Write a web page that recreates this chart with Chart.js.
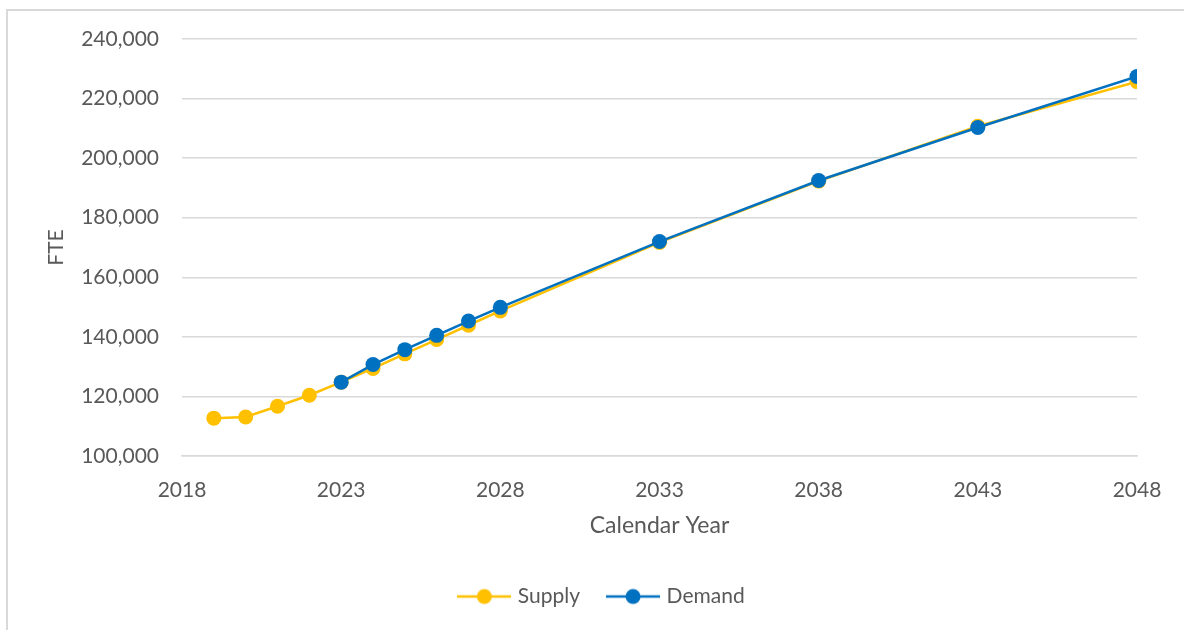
<!DOCTYPE html>
<html>
<head>
<meta charset="utf-8">
<script src="https://cdn.jsdelivr.net/npm/chart.js@4.4.1/dist/chart.umd.min.js"></script>
<style>
  html, body { margin: 0; padding: 0; background: #fff; overflow: hidden; }
  #wrap { position: relative; width: 1184px; height: 630px; }
  #frame { position: absolute; left: 6px; top: 9px; right: -20px; bottom: -20px;
           border-left: 2px solid #d9d9d9; border-top: 2px solid #d9d9d9; pointer-events: none; }
  canvas { position: absolute; left: 0; top: 0; }
</style>
</head>
<body>
<div id="wrap">
  <canvas id="fteChart" width="1184" height="630"></canvas>
  <div id="frame"></div>
</div>
<script>
// values
const supplyYears = [2019, 2020, 2021, 2022, 2023, 2024, 2025, 2026, 2027, 2028, 2033, 2038, 2043, 2048];
const supplyValues = [112700, 113100, 116700, 120400, 124800, 129400, 134300, 139100, 143900, 148700, 171700, 192300, 210700, 225700];
const demandYears = [2023, 2024, 2025, 2026, 2027, 2028, 2033, 2038, 2043, 2048];
const demandValues = [124800, 130700, 135700, 140500, 145300, 149900, 172000, 192500, 210300, 227400];
const xTicks = [2018, 2023, 2028, 2033, 2038, 2043, 2048];
const yTicks = [100000, 120000, 140000, 160000, 180000, 200000, 220000, 240000];

const SUPPLY_COLOR = '#FFC000';
const DEMAND_COLOR = '#0070C0';
const TEXT_COLOR = '#595959';
const FONT = 'Lato, "Open Sans", "Liberation Sans", sans-serif';

const toPoints = (xs, ys) => xs.map((x, i) => ({ x: x, y: ys[i] }));

// Excel-like legend marker: short line with a dot in the middle
function legendIcon(color) {
    const c = document.createElement('canvas');
    c.width = 54;
    c.height = 18;
    const g = c.getContext('2d');
    g.strokeStyle = color;
    g.lineWidth = 2.5;
    g.beginPath();
    g.moveTo(0, 9);
    g.lineTo(54, 9);
    g.stroke();
    g.fillStyle = color;
    g.beginPath();
    g.arc(27, 9, 7.5, 0, Math.PI * 2);
    g.fill();
    return c;
}

const lineStyle = color => ({
    borderColor: color,
    backgroundColor: color,
    borderWidth: 2.5,
    pointRadius: 7.5,
    pointHoverRadius: 7.5,
    pointBorderWidth: 0,
    pointBackgroundColor: color,
    tension: 0,
    fill: false
});

const ctx = document.getElementById('fteChart').getContext('2d');
new Chart(ctx, {
    type: 'line',
    data: {
        // demand first so it is painted on top of supply
        datasets: [
            Object.assign({ label: 'Demand', data: toPoints(demandYears, demandValues) }, lineStyle(DEMAND_COLOR)),
            Object.assign({ label: 'Supply', data: toPoints(supplyYears, supplyValues) }, lineStyle(SUPPLY_COLOR))
        ]
    },
    options: {
        responsive: false,
        animation: false,
        devicePixelRatio: 1,
        layout: { padding: { left: 69, right: 47, top: 39, bottom: 13 } },
        plugins: {
            tooltip: { enabled: false },
            legend: {
                position: 'bottom',
                reverse: true,
                labels: {
                    usePointStyle: true,
                    pointStyleWidth: 46,
                    padding: 30,
                    color: TEXT_COLOR,
                    font: { family: FONT, size: 21 },
                    generateLabels: chart => Chart.defaults.plugins.legend.labels.generateLabels(chart).map(item => {
                        item.pointStyle = legendIcon(item.datasetIndex === 0 ? DEMAND_COLOR : SUPPLY_COLOR);
                        return item;
                    })
                }
            }
        },
        scales: {
            x: {
                type: 'linear',
                min: xTicks[0],
                max: xTicks[xTicks.length - 1],
                afterBuildTicks: scale => { scale.ticks = xTicks.map(v => ({ value: v })); },
                afterFit: scale => { scale.height = 100; },
                grid: { display: false, drawTicks: false },
                border: { display: true, color: '#d9d9d9', width: 1.5 },
                ticks: {
                    padding: 22,
                    color: TEXT_COLOR,
                    font: { family: FONT, size: 21 },
                    maxRotation: 0,
                    callback: v => String(v)
                },
                title: {
                    display: true,
                    text: 'Calendar Year',
                    color: TEXT_COLOR,
                    font: { family: FONT, size: 23 },
                    padding: { top: 0, bottom: 17 }
                }
            },
            y: {
                min: yTicks[0],
                max: yTicks[yTicks.length - 1],
                afterBuildTicks: scale => { scale.ticks = yTicks.map(v => ({ value: v })); },
                afterFit: scale => { scale.width = 113; },
                grid: { color: '#d9d9d9', lineWidth: 1.5, drawTicks: false },
                border: { display: false },
                ticks: {
                    padding: 23,
                    color: TEXT_COLOR,
                    font: { family: FONT, size: 21 },
                    callback: v => v.toLocaleString('en-US')
                },
                title: {
                    display: true,
                    text: 'FTE',
                    color: TEXT_COLOR,
                    font: { family: FONT, size: 21 },
                    padding: { top: -25, bottom: 0 }
                }
            }
        }
    }
});
</script>
</body>
</html>
